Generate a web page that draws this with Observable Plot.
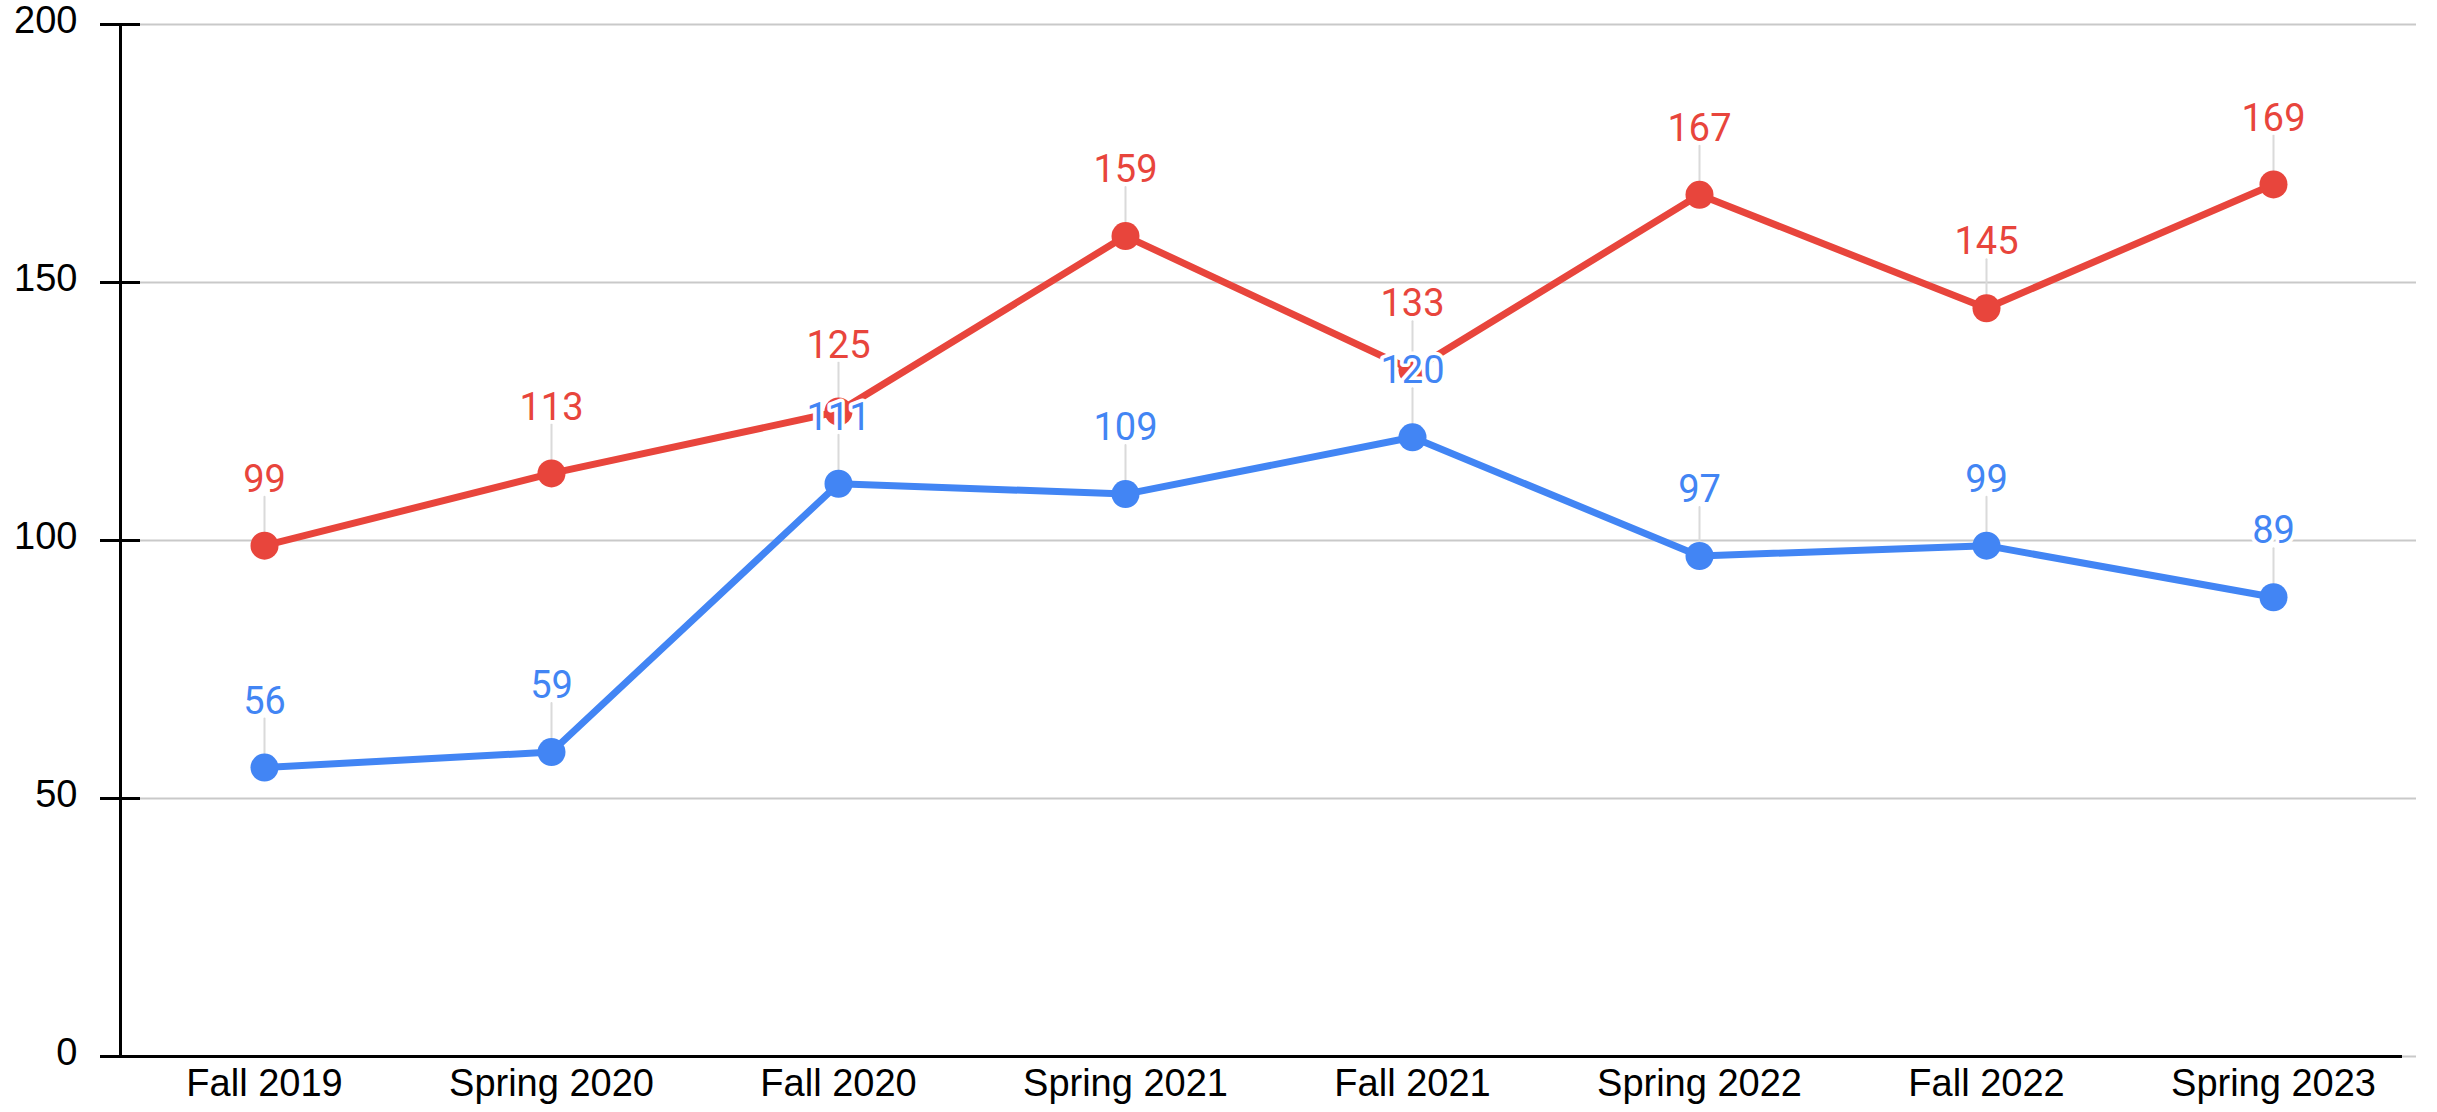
<!DOCTYPE html>
<html><head><meta charset="utf-8">
<script src="https://cdn.jsdelivr.net/npm/d3@7"></script>
<script src="https://cdn.jsdelivr.net/npm/@observablehq/plot@0.6"></script>
<style>body{margin:0;background:#fff;}</style>
</head><body><div id="chart"></div>
<script>
const terms = ["Fall 2019","Spring 2020","Fall 2020","Spring 2021","Fall 2021","Spring 2022","Fall 2022","Spring 2023"];
const redValues = [99,113,125,159,133,167,145,169];
const blueValues = [56,59,111,109,120,97,99,89];
const yTicks = [0,50,100,150,200];
const seriesNames = ["Red series","Blue series"];
const seriesColors = ["#e8453c","#4285f4"];

const rows = [
  ...terms.map((t,i)=>({term:t, value:redValues[i], series:seriesNames[0]})),
  ...terms.map((t,i)=>({term:t, value:blueValues[i], series:seriesNames[1]}))
];
const leader = {draw(ctx, l){ ctx.moveTo(0,0); ctx.lineTo(0,-l); }};

const chart = Plot.plot({
  width: 2437, height: 1112,
  marginLeft: 120, marginRight: 21, marginTop: 24, marginBottom: 56,
  style: {fontFamily: "'Liberation Sans', Arial, sans-serif", background: "#fff"},
  x: {type: "point", domain: terms, padding: 0.5, label: null},
  y: {domain: [0, 200], label: null},
  color: {domain: seriesNames, range: seriesColors},
  marks: [
    Plot.gridY(yTicks, {stroke: "#c9c9c9", strokeOpacity: 1, strokeWidth: 2}),
    Plot.axisY(yTicks, {tickSize: 40, dx: 20, strokeWidth: 3, color: "black", tickFormat: () => "", label: null}),
    Plot.axisY(yTicks, {tickSize: 0, tickPadding: 43, dy: -4, fontSize: 38, color: "black", label: null}),
    Plot.frame({anchor: "left", stroke: "black", strokeWidth: 3}),
    Plot.ruleY([0], {stroke: "black", strokeWidth: 3, insetLeft: -20, insetRight: 14}),
    Plot.axisX({tickSize: 0, tickPadding: 13, fontSize: 38, color: "black", label: null}),
    Plot.vector(rows, {x: "term", y: "value", length: 36, rotate: 0, anchor: "start", dy: -13, shape: leader, stroke: "#dadada", strokeWidth: 2}),
    Plot.line(rows, {x: "term", y: "value", z: "series", stroke: "series", strokeWidth: 7}),
    Plot.dot(rows, {x: "term", y: "value", fill: "series", r: 14}),
    Plot.text(rows, {x: "term", y: "value", text: "value", dy: -66, fill: "series", fontSize: 38, fontFamily: "Roboto", stroke: "white", strokeWidth: 7, paintOrder: "stroke"})
  ]
});
document.getElementById("chart").appendChild(chart);
</script>
</body></html>
